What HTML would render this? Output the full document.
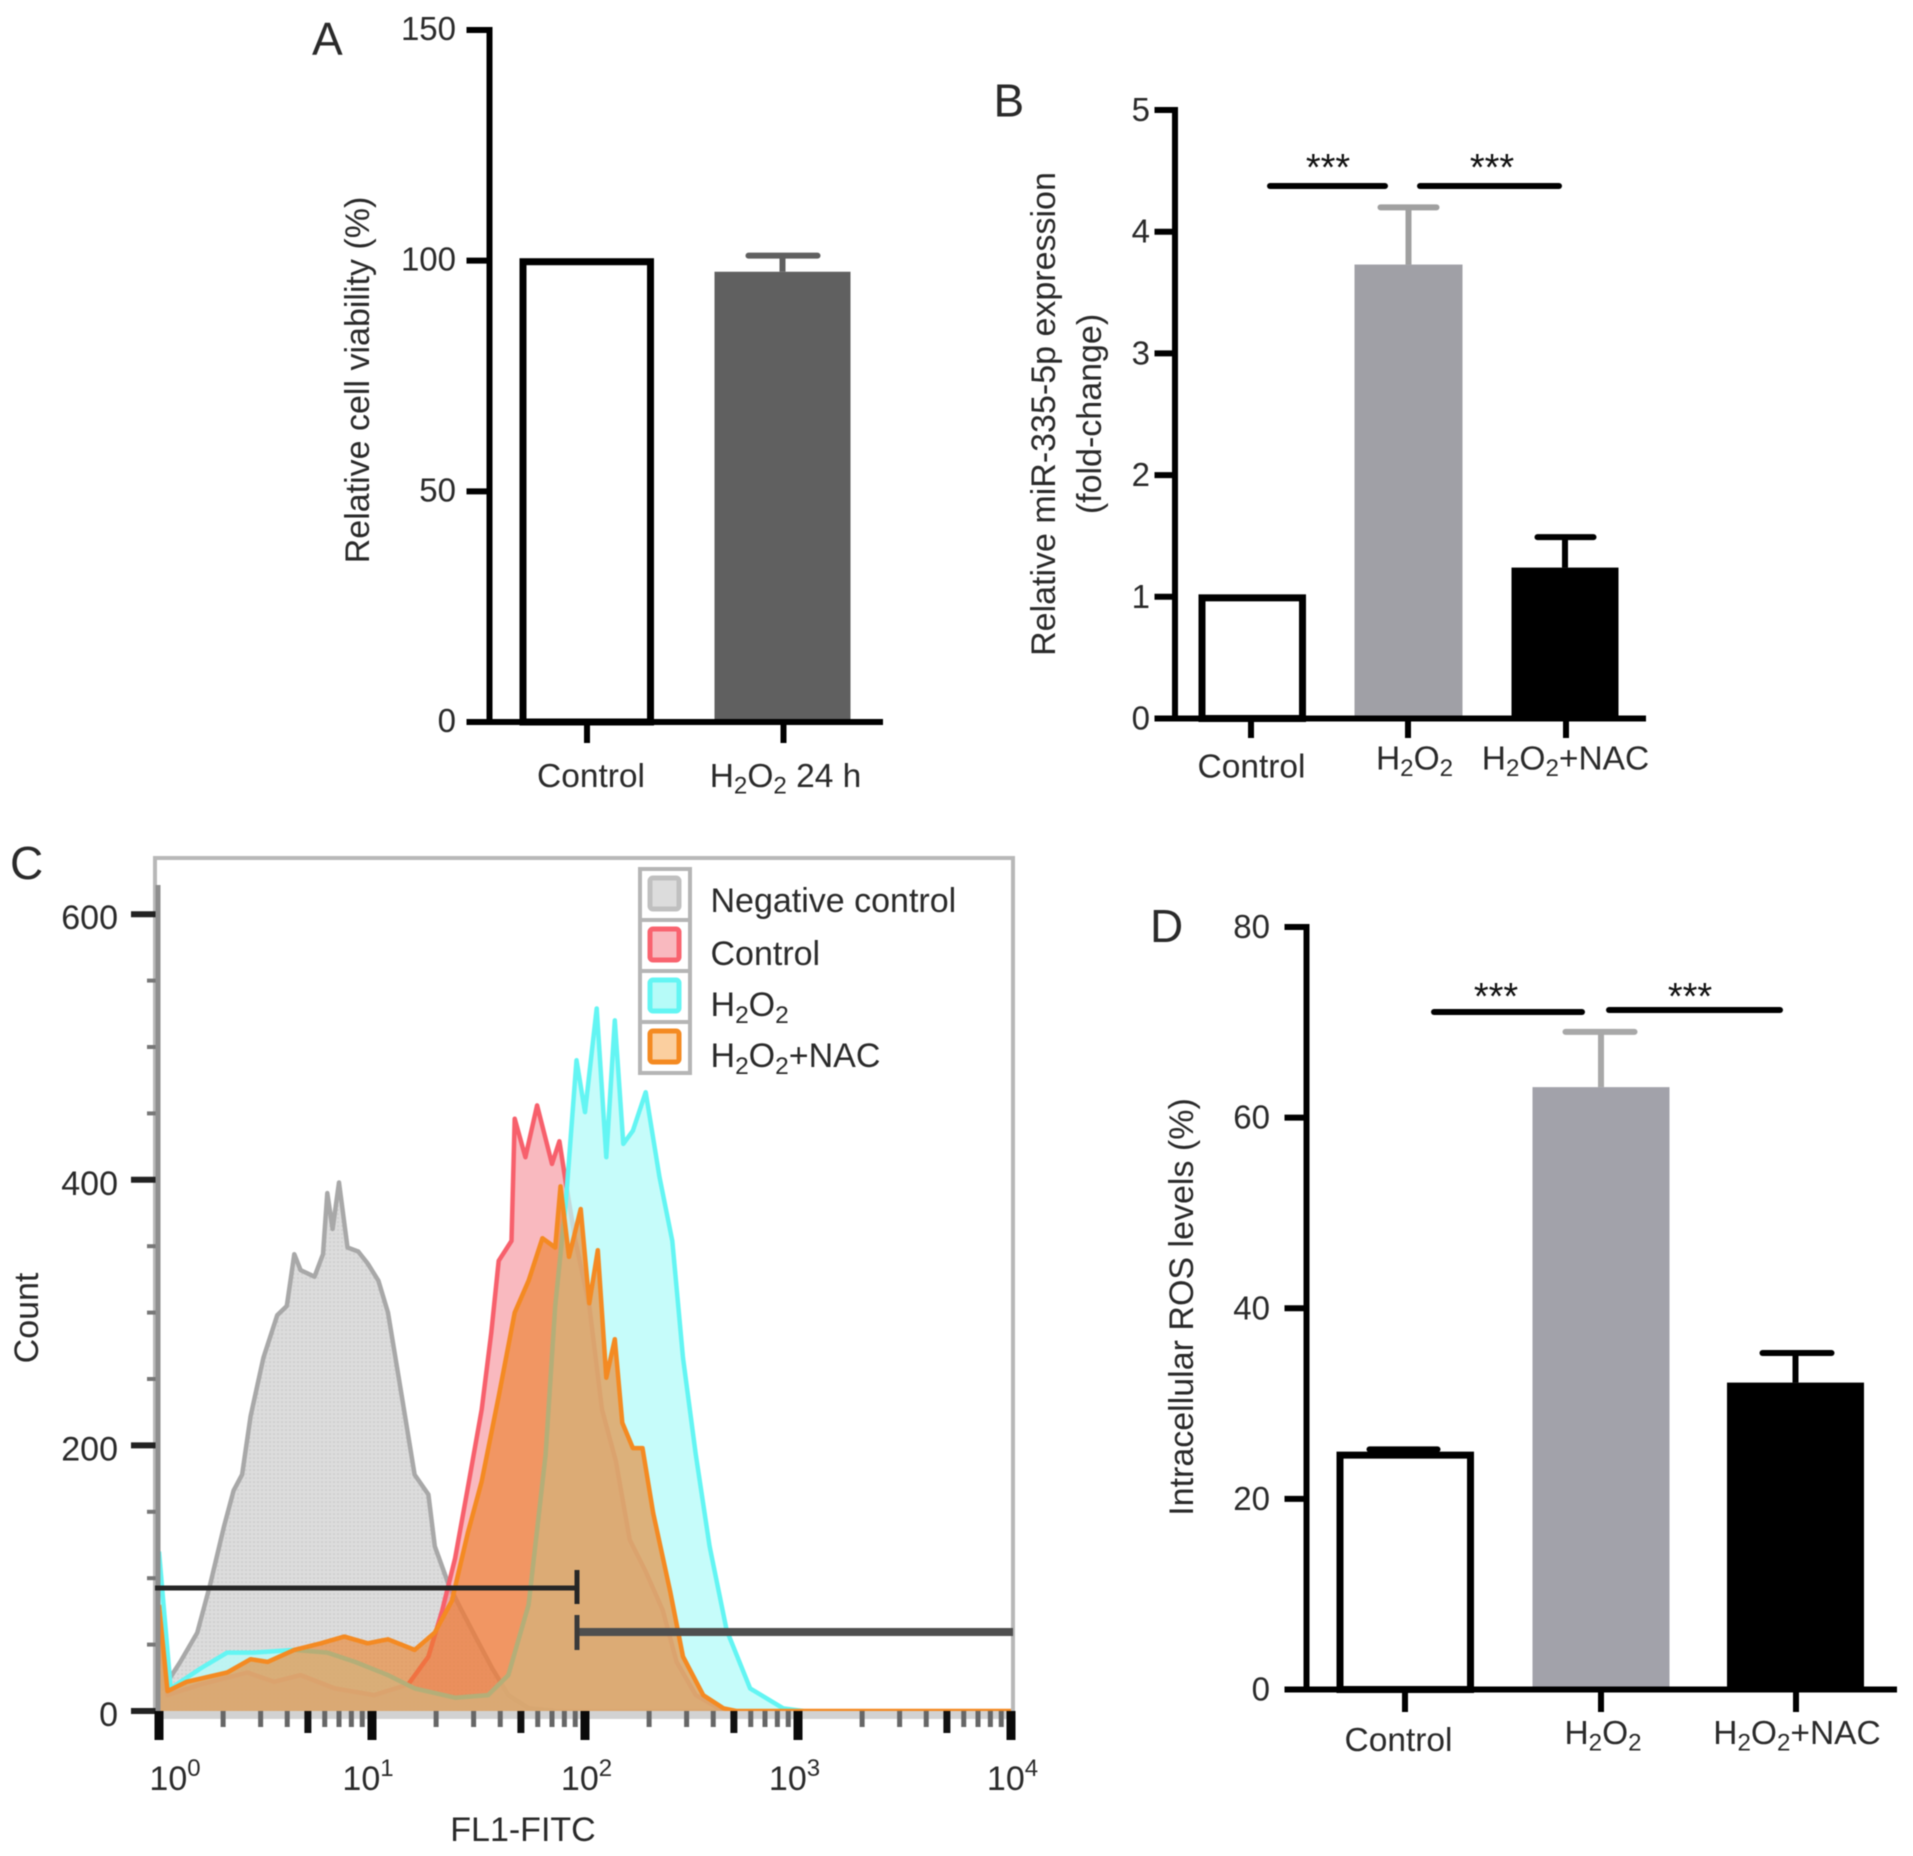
<!DOCTYPE html>
<html lang="en">
<head>
<meta charset="utf-8">
<title>Multi-panel cell viability, miR-335-5p and ROS figure</title>
<style>
html,body{margin:0;padding:0;background:#fff;}
#figure{display:block;width:1913px;height:1856px;filter:blur(0.6px);}
text{font-family:"Liberation Sans",Arial,sans-serif;fill:#2a2a2a;}
</style>
</head>
<body>
<svg id="figure" xmlns="http://www.w3.org/2000/svg" width="1913" height="1856" viewBox="0 0 1913 1856">
<rect width="1913" height="1856" fill="#fff"/>
<defs>
<pattern id="dots" width="4" height="4" patternUnits="userSpaceOnUse"><rect width="4" height="4" fill="#dcdcdc"/><circle cx="2" cy="2" r="0.8" fill="#c6c6c6"/></pattern>
<clipPath id="plotClip"><rect x="155" y="857" width="858" height="854"/></clipPath>
</defs>
<text x="312" y="55" font-size="46">A</text>
<text x="993.5" y="116.5" font-size="46">B</text>
<text x="10" y="879" font-size="46">C</text>
<text x="1150" y="942" font-size="46">D</text>
<text transform="translate(369,380) rotate(-90)" text-anchor="middle" font-size="34">Relative cell viability (%)</text>
<text transform="translate(1055,414) rotate(-90)" text-anchor="middle" font-size="34">Relative miR-335-5p expression</text>
<text transform="translate(1101,414) rotate(-90)" text-anchor="middle" font-size="34">(fold-change)</text>
<text transform="translate(1193,1307) rotate(-90)" text-anchor="middle" font-size="34">Intracellular ROS levels (%)</text>
<text transform="translate(38,1318) rotate(-90)" text-anchor="middle" font-size="34">Count</text>
<text x="523" y="1841" text-anchor="middle" font-size="34">FL1-FITC</text>
<g id="panelA"></g>
<g id="panelB"></g>
<g id="panelD"></g>
<g id="panelC"></g>
</svg>
<script>
/* Panel A data */
const aCategories = ['Control', 'H2O2 24 h'];
const aValues = [100, 97.6];
const aErrors = [0, 3.5];
const aTicks = [0, 50, 100, 150];
/* Panel B data */
const bCategories = ['Control', 'H2O2', 'H2O2+NAC'];
const bValues = [1, 3.73, 1.24];
const bErrors = [0, 0.47, 0.25];
const bTicks = [0, 1, 2, 3, 4, 5];
/* Panel D data */
const dCategories = ['Control', 'H2O2', 'H2O2+NAC'];
const dValues = [24.7, 63.2, 32.2];
const dErrors = [0.5, 5.8, 3.1];
const dTicks = [0, 20, 40, 60, 80];
/* Panel C data: x values are decades of FL1-FITC (log10), y values are counts */
const cYTicks = [0, 200, 400, 600];
const cXDecades = [0, 1, 2, 3, 4];
const negativeX = [0,0.02,0.10,0.18,0.24,0.305,0.35,0.39,0.43,0.49,0.555,0.60,0.635,0.665,0.73,0.77,0.79,0.815,0.845,0.885,0.935,0.98,1.03,1.075,1.14,1.20,1.265,1.295,1.36,1.42,1.485,1.565,1.64,1.735,1.86];
const negativeY = [30,17,37,59,95,139,166,178,222,266,298,305,344,332,327,344,390,363,398,349,346,337,324,300,237,178,163,124,95,76,56,32,12,2,0];
const controlX = [0,0.04,0.195,0.415,0.54,0.665,0.825,1.01,1.17,1.265,1.33,1.39,1.45,1.515,1.56,1.595,1.655,1.67,1.72,1.775,1.845,1.88,1.91,1.955,2.02,2.08,2.145,2.21,2.285,2.365,2.43,2.52,2.65];
const controlY = [56,12,20,29,22,27,17,12,20,41,76,115,168,227,285,339,354,446,417,456,412,429,398,354,305,227,188,129,105,76,37,12,0];
const h2o2X = [0,0.055,0.195,0.32,0.445,0.635,0.79,0.92,1.075,1.20,1.39,1.545,1.64,1.735,1.815,1.86,1.91,1.96,2.0,2.055,2.10,2.14,2.18,2.225,2.285,2.35,2.41,2.46,2.52,2.585,2.665,2.775,2.93,3.025];
const h2o2Y = [120,17,32,44,44,46,44,37,27,17,10,12,27,80,193,305,383,490,451,529,417,520,427,437,466,402,354,266,193,124,61,17,2,0];
const nacX = [0,0.04,0.13,0.32,0.43,0.51,0.635,0.76,0.87,0.98,1.075,1.20,1.295,1.375,1.45,1.515,1.595,1.67,1.735,1.80,1.86,1.885,1.925,1.98,2.02,2.06,2.10,2.14,2.175,2.225,2.27,2.32,2.40,2.46,2.555,2.65,2.71,4];
const nacY = [80,15,22,29,39,37,46,51,56,51,54,46,59,83,134,173,237,300,324,356,349,395,342,378,307,347,251,280,217,198,198,149,90,41,12,2,0,0];
const legendLabels = ['Negative control', 'Control', 'H2O2', 'H2O2+NAC'];

const NS = 'http://www.w3.org/2000/svg';
function make(tag, attrs, parent) {
  const el = document.createElementNS(NS, tag);
  for (const k in attrs) el.setAttribute(k, attrs[k]);
  parent.appendChild(el);
  return el;
}
/* Writes a label, dropping the 2 of H2 and O2 to a subscript */
function chem(el, str, fs) {
  str.split(/(?<=[HO])(2)/).forEach(function (part) {
    if (!part) return;
    const t = document.createElementNS(NS, 'tspan');
    t.textContent = part;
    if (part === '2') {
      t.setAttribute('font-size', fs * 0.72);
      t.setAttribute('dy', fs * 0.2);
      el.appendChild(t);
    } else {
      if (el.lastChild && el.lastChild.textContent === '2') t.setAttribute('dy', -fs * 0.2);
      el.appendChild(t);
    }
  });
}

function barPanel(root, key, cfg, categories, values, errors, ticks) {
  const y = function (v) { return cfg.y0 - (v - 0) * (cfg.y0 - cfg.yTop) / cfg.yMax; };
  values.forEach(function (v, i) {
    const b = cfg.bars[i];
    const st = cfg.styles[i];
    if (errors[i] > 0) {
      const stem = make('line', {x1: (b[0] + b[1]) / 2, x2: (b[0] + b[1]) / 2, y1: y(v), y2: y(v + errors[i]), stroke: st.err, 'stroke-width': 6}, root);
      
      
      const cap = make('line', {x1: cfg.caps[i][0], x2: cfg.caps[i][1], y1: y(v + errors[i]), y2: y(v + errors[i]), stroke: st.err, 'stroke-width': 6, 'stroke-linecap': 'round'}, root);
      
      
    }
    const outline = st.fill === '#fff';
    const inset = outline ? 3.5 : 0;
    const r = make('rect', {x: b[0] + inset, y: y(v) + inset * 0.3, width: b[1] - b[0] - 2 * inset, height: y(0) - y(v) - inset * 0.3, fill: st.fill, stroke: outline ? '#000' : 'none', 'stroke-width': outline ? 7 : 0}, root);
    
    
  });
  const yAxis = make('line', {x1: cfg.axisX, x2: cfg.axisX, y1: y(cfg.yMax) - 3, y2: y(0) + 3, stroke: '#000', 'stroke-width': 6}, root);
  
  
  const xAxis = make('line', {x1: cfg.tickLeft, x2: cfg.xEnd, y1: y(0), y2: y(0), stroke: '#000', 'stroke-width': 6}, root);
  
  
  ticks.forEach(function (t) {
    const tick = make('line', {x1: cfg.tickLeft, x2: cfg.axisX, y1: y(t), y2: y(t), stroke: '#000', 'stroke-width': 6}, root);
    
    
    const lab = make('text', {x: cfg.labelRight, y: y(t) + cfg.labelDy, 'text-anchor': 'end', 'font-size': 33}, root);
    lab.textContent = t;
    
    
  });
  categories.forEach(function (c, i) {
    const tick = make('line', {x1: cfg.xTicks[i], x2: cfg.xTicks[i], y1: y(0), y2: cfg.tickBottom, stroke: '#000', 'stroke-width': 6}, root);
    
    
    const lab = make('text', {x: cfg.catX[i], y: cfg.catY[i], 'text-anchor': 'middle', 'font-size': 33.5}, root);
    chem(lab, c, 33.5);
    
    
  });
  (cfg.sig || []).forEach(function (s, i) {
    const bar = make('line', {x1: s[0], x2: s[1], y1: s[2], y2: s[2], stroke: '#000', 'stroke-width': 6, 'stroke-linecap': 'round'}, root);
    
    
    const star = make('text', {x: s[3], y: s[4], 'text-anchor': 'middle', 'font-size': 38, style: 'fill:#111'}, root);
    star.textContent = '***';
    
    
  });
}

barPanel(document.getElementById('panelA'), 'panel-a', {
  y0: 722, yTop: 30, yMax: 150, axisX: 489.5, tickLeft: 466.5, xEnd: 883, labelRight: 456, labelDy: 10, tickBottom: 743,
  bars: [[519.5, 654], [714.5, 850.5]], caps: [null, [748.5, 817.5]],
  styles: [{fill: '#fff', err: '#000'}, {fill: '#606060', err: '#606060'}],
  xTicks: [587, 783.5], catX: [591, 785.5], catY: [787, 787]
}, aCategories, aValues, aErrors, aTicks);

barPanel(document.getElementById('panelB'), 'panel-b', {
  y0: 718.5, yTop: 110, yMax: 5, axisX: 1175, tickLeft: 1154.5, xEnd: 1646, labelRight: 1150, labelDy: 11, tickBottom: 738,
  bars: [[1198.5, 1306], [1354.5, 1462.5], [1511.5, 1618.5]], caps: [null, [1380.5, 1436.5], [1537.5, 1593.5]],
  styles: [{fill: '#fff', err: '#000'}, {fill: '#a0a0a6', err: '#a0a0a0'}, {fill: '#000', err: '#000'}],
  xTicks: [1251, 1408, 1566], catX: [1251.5, 1414.5, 1565.5], catY: [777.5, 769.5, 769.5],
  sig: [[1270, 1385, 186, 1328, 180], [1420, 1559, 186, 1492, 180]]
}, bCategories, bValues, bErrors, bTicks);

barPanel(document.getElementById('panelD'), 'panel-d', {
  y0: 1689.5, yTop: 927, yMax: 80, axisX: 1306.5, tickLeft: 1284.5, xEnd: 1897, labelRight: 1270, labelDy: 11, tickBottom: 1712,
  bars: [[1336.5, 1474], [1532.5, 1669.5], [1727, 1864]], caps: [[1369.5, 1437.5], [1565.5, 1634.5], [1762.5, 1831.5]],
  styles: [{fill: '#fff', err: '#000'}, {fill: '#a2a2aa', err: '#a8a8a8'}, {fill: '#000', err: '#000'}],
  xTicks: [1405, 1601, 1796], catX: [1398.5, 1603, 1797], catY: [1751, 1744, 1744],
  sig: [[1434, 1582, 1012, 1496, 1009], [1609, 1780, 1010, 1690, 1009]]
}, dCategories, dValues, dErrors, dTicks);

/* Panel C */
(function () {
  const root = document.getElementById('panelC');
  const xScale = function (d) { return 159 + d * 213; };
  const yScale = function (c) { return 1711 - c * 1.328; };
  const frame = make('rect', {x: 155, y: 858, width: 858, height: 853, fill: 'none', stroke: '#b8b8b8', 'stroke-width': 4}, root);
  
  
  const plot = make('g', {'clip-path': 'url(#plotClip)'}, root);
  
  
  function area(name, xs, ys, fill, fillOpacity, stroke) {
    let d = 'M' + xScale(xs[0]) + ',' + yScale(0);
    xs.forEach(function (x, i) { d += 'L' + xScale(x).toFixed(1) + ',' + yScale(ys[i]).toFixed(1); });
    const f = make('path', {d: d + 'L' + xScale(xs[xs.length - 1]) + ',' + yScale(0) + 'Z', fill: fill, 'fill-opacity': fillOpacity, stroke: 'none'}, plot);
    
    
    let l = '';
    xs.forEach(function (x, i) { l += (i ? 'L' : 'M') + xScale(x).toFixed(1) + ',' + yScale(ys[i]).toFixed(1); });
    const p = make('path', {d: l, fill: 'none', stroke: stroke, 'stroke-width': 4.5, 'stroke-linejoin': 'round'}, plot);
    
    
  }
  area('negative-control-histogram', negativeX, negativeY, 'url(#dots)', 1, '#a8a8a8');
  area('control-histogram', controlX, controlY, 'rgb(243,115,127)', 0.5, '#f7606c');
  area('h2o2-histogram', h2o2X, h2o2Y, 'rgb(182,251,248)', 0.78, '#63f5f3');
  area('h2o2-nac-histogram', nacX, nacY, 'rgb(235,126,38)', 0.6, '#f48a22');

  const band = make('rect', {x: 157, y: 1711, width: 856, height: 8, fill: '#d2d2d2'}, root);
  
  

  /* y ticks */
  for (let c = 0; c <= 600; c += 50) {
    const major = cYTicks.indexOf(c) >= 0;
    const t = make('line', {x1: major ? 131 : 147, x2: 157, y1: yScale(c), y2: yScale(c), stroke: major ? '#222' : '#777', 'stroke-width': major ? 6 : 4}, root);
    
    
  }
  const yBand = make('line', {x1: 158, x2: 158, y1: 885, y2: 1711, stroke: '#8f8f8f', 'stroke-width': 5}, root);
  
  
  cYTicks.forEach(function (c) {
    const lab = make('text', {x: 118, y: yScale(c) + 15, 'text-anchor': 'end', 'font-size': 34}, root);
    lab.textContent = c;
    
    
  });

  /* x ticks */
  const labelOffsets = [16, -4, 1.5, -3.5, 1.5];
  cXDecades.forEach(function (dec) {
    const t = make('rect', {x: xScale(dec) - 4.5, y: 1711, width: 9, height: 29, fill: '#0a0a0a'}, root);
    
    
    const lab = make('text', {x: xScale(dec) + labelOffsets[dec], y: 1790, 'text-anchor': 'middle', 'font-size': 34}, root);
    const base = document.createElementNS(NS, 'tspan');
    base.textContent = '10';
    lab.appendChild(base);
    const pow = document.createElementNS(NS, 'tspan');
    pow.textContent = dec;
    pow.setAttribute('font-size', 24);
    pow.setAttribute('dy', -14);
    lab.appendChild(pow);
    
    
    if (dec < 4) {
      for (let m = 2; m <= 9; m++) {
        const five = m === 5;
        const mt = make('rect', {x: xScale(dec + Math.log10(m)) - (five ? 3.5 : 2.5), y: 1711, width: five ? 7 : 5, height: five ? 22 : 16, fill: five ? '#111' : '#666'}, root);
        
        
      }
    }
  });

  /* gates */
  const gateL = make('line', {x1: 155, x2: 577, y1: 1588, y2: 1588, stroke: '#262626', 'stroke-width': 5}, root);
  
  
  const gateLC = make('line', {x1: 577, x2: 577, y1: 1570, y2: 1604, stroke: '#262626', 'stroke-width': 5}, root);
  
  
  const gateR = make('line', {x1: 577, x2: 1013, y1: 1632, y2: 1632, stroke: '#4f4f4f', 'stroke-width': 8}, root);
  
  
  const gateRC = make('line', {x1: 577, x2: 577, y1: 1615, y2: 1650, stroke: '#3a3a3a', 'stroke-width': 5}, root);
  
  

  /* legend */
  const swatchFill = ['#dcdcdc', '#f9b9bf', '#b6fbf8', '#fbcf9f'];
  const swatchStroke = ['#c0c0c0', '#f9636f', '#63f5f3', '#f48a22'];
  const baselines = [912, 965, 1016, 1067];
  legendLabels.forEach(function (name, i) {
    const top = 869 + i * 51;
    const cell = make('rect', {x: 640, y: top, width: 50, height: 51, fill: '#fff', stroke: '#b5b5b5', 'stroke-width': 4}, root);
    
    
    const sw = make('rect', {x: 650, y: top + 9, width: 29, height: 31, rx: 3, fill: swatchFill[i], stroke: swatchStroke[i], 'stroke-width': 5}, root);
    
    
    const t = make('text', {x: 710.5, y: baselines[i], 'font-size': 34}, root);
    chem(t, name, 34);
    
    
  });
})();
</script>
</body>
</html>
